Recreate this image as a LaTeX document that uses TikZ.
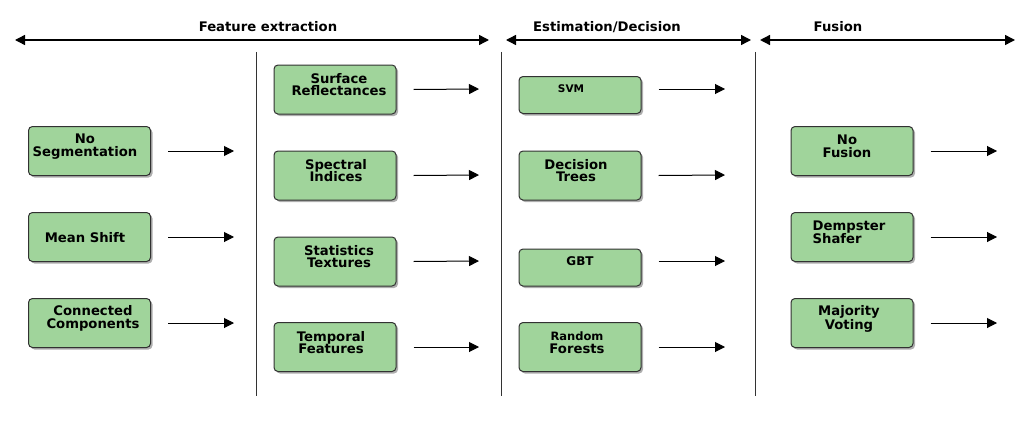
\documentclass[tikz,border=0pt]{standalone}
\usepackage{fontspec}
\setsansfont{DejaVu Sans}
\usetikzlibrary{arrows.meta,shadows}
\definecolor{boxgreen}{RGB}{160,212,155}
\definecolor{boxline}{RGB}{50,50,50}
\tikzset{
  box/.style={draw=boxline, line width=1pt, fill=boxgreen, rounded corners=4pt,
    minimum width=122pt, minimum height=49pt, inner sep=0pt,
    drop shadow={shadow xshift=2pt, shadow yshift=-2pt, opacity=0.45, fill=black!70}},
  shortbox/.style={box, minimum height=37pt},
  lbl/.style={font=\sffamily\bfseries\fontsize{13.2}{12.8}\selectfont, align=center, inner sep=0pt},
  ttl/.style={font=\sffamily\bfseries\fontsize{13.2}{13}\selectfont, inner sep=0pt},
  flow/.style={-{Triangle[length=10pt,width=10pt]}, line width=1pt},
  span/.style={{Triangle[length=10pt,width=10pt]}-{Triangle[length=10pt,width=10pt]}, line width=1.4pt},
  sep/.style={line width=1pt, black!80}
}
\begin{document}
\begin{tikzpicture}[x=1pt,y=-1pt]
\useasboundingbox (0,0) rectangle (1024,420);
% top spans
\coordinate (s1a) at (15,40); \coordinate (s1b) at (489,40);
\coordinate (s2a) at (506,40); \coordinate (s2b) at (751,40);
\coordinate (s3a) at (760,40); \coordinate (s3b) at (1015,40);
\draw[span] (s1a) -- (s1b);
\draw[span] (s2a) -- (s2b);
\draw[span] (s3a) -- (s3b);
\node[ttl] (t1) at (268,27) {Feature extraction};
\node[ttl] (t2) at (607,27) {Estimation/Decision};
\node[ttl] (t3) at (838,27) {Fusion};
% separators
\coordinate (v1a) at (256,52); \coordinate (v1b) at (256,396);
\coordinate (v2a) at (501,52); \coordinate (v2b) at (501,396);
\coordinate (v3a) at (755,52); \coordinate (v3b) at (755,396);
\draw[sep] (v1a) -- (v1b);
\draw[sep] (v2a) -- (v2b);
\draw[sep] (v3a) -- (v3b);
% column 1
\node[box] (c1a) at (89.5,151) {};
\node[box] (c1b) at (89.5,237) {};
\node[box] (c1c) at (89.5,323) {};
\node[lbl] (l1a) at (85,146.5) {No\\Segmentation};
\node[lbl] (l1b) at (85,238) {Mean Shift};
\node[lbl] (l1c) at (93,318.5) {Connected\\Components};
\coordinate (a1a) at (234,151); \coordinate (a1b) at (234,237); \coordinate (a1c) at (234,323);
\draw[flow] (c1a.east) ++(17,0) -- (a1a);
\draw[flow] (c1b.east) ++(17,0) -- (a1b);
\draw[flow] (c1c.east) ++(17,0) -- (a1c);
% column 2
\node[box] (c2a) at (335,89.5) {};
\node[box] (c2b) at (335,175.5) {};
\node[box] (c2c) at (335,261.5) {};
\node[box] (c2d) at (335,347) {};
\node[lbl] (l2a) at (339,84.5) {Surface\\Reflectances};
\node[lbl] (l2b) at (336,170.5) {Spectral\\Indices};
\node[lbl] (l2c) at (339,256.5) {Statistics\\Textures};
\node[lbl] (l2d) at (331,342.5) {Temporal\\Features};
\coordinate (a2a) at (479,89); \coordinate (a2b) at (479,175); \coordinate (a2c) at (479,261); \coordinate (a2d) at (479,347);
\draw[flow] (c2a.east) ++(17,0) -- (a2a);
\draw[flow] (c2b.east) ++(17,0) -- (a2b);
\draw[flow] (c2c.east) ++(17,0) -- (a2c);
\draw[flow] (c2d.east) ++(17,0) -- (a2d);
% column 3
\node[shortbox] (c3a) at (580,95) {};
\node[box] (c3b) at (580,175.5) {};
\node[shortbox] (c3c) at (580,267.5) {};
\node[box] (c3d) at (580,347) {};
\node[lbl, font=\sffamily\bfseries\fontsize{10.5}{10.5}\selectfont] (l3a) at (571,89) {SVM};
\node[lbl] (l3b) at (576,170.5) {Decision\\Trees};
\node[lbl, font=\sffamily\bfseries\fontsize{12}{12}\selectfont] (l3c) at (580,261) {GBT};
\node[lbl] (l3d) at (577,342.5) {\fontsize{11.5}{11.5}\selectfont Random\\Forests};
\coordinate (a3a) at (725,89); \coordinate (a3b) at (725,175); \coordinate (a3c) at (725,261); \coordinate (a3d) at (725,347);
\draw[flow] (c3a.east |- a3a) ++(17,0) -- (a3a);
\draw[flow] (c3b.east) ++(17,0) -- (a3b);
\draw[flow] (c3c.east |- a3c) ++(17,0) -- (a3c);
\draw[flow] (c3d.east) ++(17,0) -- (a3d);
% column 4
\node[box] (c4a) at (852,151) {};
\node[box] (c4b) at (852,237) {};
\node[box] (c4c) at (852,323) {};
\node[lbl] (l4a) at (847,146.5) {No\\Fusion};
\node[lbl, align=left] (l4b) at (849,232.5) {Dempster\\Shafer};
\node[lbl] (l4c) at (849,318.5) {Majority\\Voting};
\coordinate (a4a) at (997,151); \coordinate (a4b) at (997,237); \coordinate (a4c) at (997,323);
\draw[flow] (c4a.east) ++(17,0) -- (a4a);
\draw[flow] (c4b.east) ++(17,0) -- (a4b);
\draw[flow] (c4c.east) ++(17,0) -- (a4c);
\end{tikzpicture}
\end{document}
